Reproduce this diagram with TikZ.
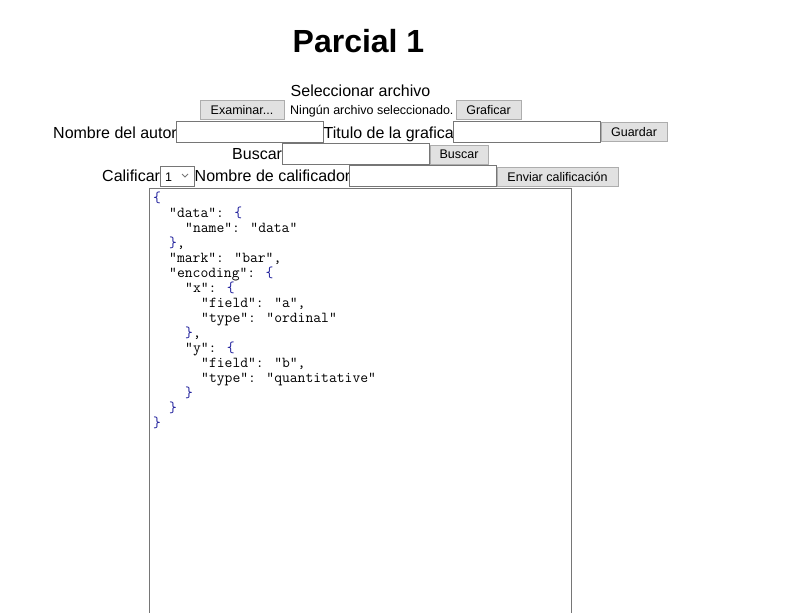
\documentclass[tikz,border=0pt]{standalone}
\usepackage{fontspec}
\setmainfont{Liberation Sans}
\newlength{\du}
\setlength{\du}{1pt}
\definecolor{btnfill}{rgb}{0.882353, 0.882353, 0.882353}
\definecolor{btnborder}{rgb}{0.678431, 0.678431, 0.678431}
\definecolor{inputborder}{rgb}{0.462745, 0.462745, 0.462745}
\definecolor{jsonbrace}{rgb}{0.100000, 0.100000, 0.600000}
\tikzset{
  etiqueta/.style={inner sep=0pt, anchor=base west, font=\fontsize{16}{19}\selectfont},
  chica/.style={inner sep=0pt, anchor=base west, font=\fontsize{12.5}{15}\selectfont},
  boton/.style={draw=btnborder, fill=btnfill, line width=1\du, inner sep=0pt, minimum height=19\du, font=\fontsize{12.5}{15}\selectfont},
  entrada/.style={draw=inputborder, line width=1\du, inner sep=0pt, minimum width=147\du, minimum height=21\du},
  jsonline/.style={inner sep=0pt, anchor=base west, font=\ttfamily\fontsize{15.2}{15}\selectfont}
}
\newcommand{\lb}{\textcolor{jsonbrace}{\{}}
\newcommand{\rb}{\textcolor{jsonbrace}{\}}}
\begin{document}
\begin{tikzpicture}
\pgftransformxscale{1.000000}
\pgftransformyscale{-1.000000}
\useasboundingbox (0\du,0\du) rectangle (790\du,613\du);
% titulo
\node[inner sep=0pt, anchor=base, font=\bfseries\fontsize{32}{38}\selectfont] (titulo) at (358.5\du,52\du){Parcial 1};
\node[etiqueta, anchor=base] (selarchivo) at (360.5\du,96\du){Seleccionar archivo};
% fila archivo
\node[boton, minimum width=84\du] (examinar) at (242\du,110\du){Examinar...};
\node[chica] (ningun) at (290\du,114.5\du){Ningún archivo seleccionado.};
\node[boton, minimum width=65\du] (graficar) at (488.5\du,110\du){Graficar};
% fila autor
\node[etiqueta] (autorlbl) at (53\du,138\du){Nombre del autor};
\node[entrada] (autor) at (249.5\du,131.5\du){};
\node[etiqueta] (titulolbl) at (323.5\du,138\du){Titulo de la grafica};
\node[entrada] (titulograf) at (526.5\du,131.5\du){};
\node[boton, minimum width=66\du] (guardar) at (634\du,132\du){Guardar};
% fila buscar
\node[etiqueta] (buscarlbl) at (232\du,159.5\du){Buscar};
\node[entrada] (buscar) at (355.5\du,153.5\du){};
\node[boton, minimum width=58\du] (buscarbtn) at (459\du,154.5\du){Buscar};
% fila calificar
\node[etiqueta] (califlbl) at (102\du,181.5\du){Calificar};
\node[draw=inputborder, line width=1\du, minimum width=34\du, minimum height=20\du, inner sep=0pt] (nota) at (177\du,176\du){};
\node[chica] (notaval) at (165\du,181\du){1};
\draw[inputborder, line width=0.8\du] (182\du,174\du)--(185\du,177\du)--(188\du,174\du);
\node[etiqueta] (calificadorlbl) at (194.5\du,181.5\du){Nombre de calificador};
\node[entrada] (calificador) at (422.5\du,176\du){};
\node[boton, minimum width=121\du] (enviar) at (557.5\du,176.5\du){Enviar calificación};
% caja json
\draw[inputborder, line width=1.3\du] (149.5\du,613\du)--(149.5\du,188.5\du)--(571.5\du,188.5\du)--(571.5\du,613\du);
\node[jsonline] (j1) at (153\du,202\du){\lb};
\node[jsonline] (j2) at (169\du,217\du){"data": \lb};
\node[jsonline] (j3) at (185\du,232\du){"name": "data"};
\node[jsonline] (j4) at (169\du,247\du){\rb,};
\node[jsonline] (j5) at (169\du,262\du){"mark": "bar",};
\node[jsonline] (j6) at (169\du,277\du){"encoding": \lb};
\node[jsonline] (j7) at (185\du,292\du){"x": \lb};
\node[jsonline] (j8) at (201\du,307\du){"field": "a",};
\node[jsonline] (j9) at (201\du,322\du){"type": "ordinal"};
\node[jsonline] (j10) at (185\du,337\du){\rb,};
\node[jsonline] (j11) at (185\du,352\du){"y": \lb};
\node[jsonline] (j12) at (201\du,367\du){"field": "b",};
\node[jsonline] (j13) at (201\du,382\du){"type": "quantitative"};
\node[jsonline] (j14) at (185\du,397\du){\rb};
\node[jsonline] (j15) at (169\du,412\du){\rb};
\node[jsonline] (j16) at (153\du,427\du){\rb};
\end{tikzpicture}
\end{document}
